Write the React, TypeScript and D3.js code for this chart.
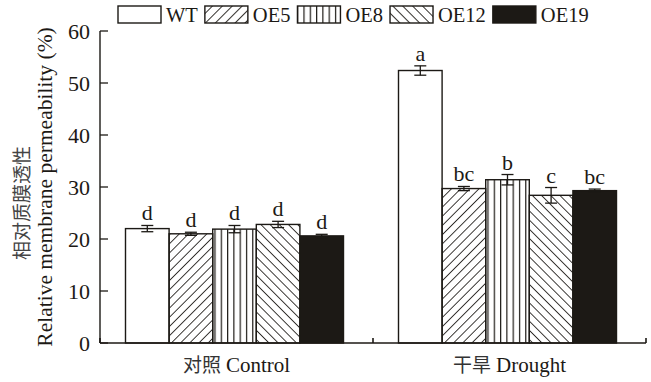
import React from "react";
import * as d3 from "d3";

// chart data
const groups = ["对照 Control", "干旱 Drought"];
const lines = ["WT", "OE5", "OE8", "OE12", "OE19"];
const controlMeans = [22.0, 21.0, 21.9, 22.8, 20.6];
const controlErr = [0.6, 0.3, 0.7, 0.6, 0.3];
const controlLetters = ["d", "d", "d", "d", "d"];
const droughtMeans = [52.4, 29.7, 31.4, 28.4, 29.3];
const droughtErr = [0.9, 0.4, 1.0, 1.5, 0.3];
const droughtLetters = ["a", "bc", "b", "c", "bc"];
const yTicks = [0, 10, 20, 30, 40, 50, 60];

const W = 651;
const H = 382;
const ink = "#1c1915";
const serif = "'Liberation Serif', 'DejaVu Serif', serif";
const cjk = "'Noto Sans CJK SC', sans-serif";

const fills: Record<string, string> = {
  WT: "#fff",
  OE5: "url(#hatch-fwd)",
  OE8: "url(#hatch-vert)",
  OE12: "url(#hatch-back)",
  OE19: ink,
};
const legendFills: Record<string, string> = {
  WT: "#fff",
  OE5: "url(#lg-fwd)",
  OE8: "url(#hatch-vert)",
  OE12: "url(#lg-back)",
  OE19: ink,
};

function textWidth(s: string, font: string) {
  const ctx = document.createElement("canvas").getContext("2d");
  if (!ctx) return s.length * 10;
  ctx.font = font;
  return ctx.measureText(s).width;
}

export default function App() {
  const y = d3.scaleLinear().domain([0, 60]).range([343, 31]);
  const x0 = d3.scaleBand().domain(groups).range([100, 646]);
  const x1 = d3.scaleBand().domain(lines).range([25.5, 243.5]);

  const series = [
    { means: controlMeans, err: controlErr, letters: controlLetters },
    { means: droughtMeans, err: droughtErr, letters: droughtLetters },
  ];

  // legend layout
  const legendFont = `20.5px 'Liberation Serif'`;
  let lx = 118;
  const legendItems = lines.map((l) => {
    const item = { l, x: lx };
    lx += 43 + 5 + textWidth(l, legendFont) + 7;
    return item;
  });

  return (
    <div style={{ position: "absolute", left: 0, top: 0 }}>
      <svg width={W} height={H} style={{ display: "block", background: "#fff" }}>
        <defs>
          <pattern id="hatch-fwd" patternUnits="userSpaceOnUse" width={6.5} height={6.5} patternTransform="rotate(45)">
            <line x1={0} y1={0} x2={0} y2={6.5} stroke={ink} strokeWidth={1.7} />
          </pattern>
          <pattern id="hatch-back" patternUnits="userSpaceOnUse" width={6.5} height={6.5} patternTransform="rotate(-45)">
            <line x1={0} y1={0} x2={0} y2={6.5} stroke={ink} strokeWidth={1.7} />
          </pattern>
          <pattern id="lg-fwd" patternUnits="userSpaceOnUse" width={7} height={7} patternTransform="rotate(45)">
            <line x1={0} y1={0} x2={0} y2={7} stroke={ink} strokeWidth={1.8} />
          </pattern>
          <pattern id="lg-back" patternUnits="userSpaceOnUse" width={7} height={7} patternTransform="rotate(-45)">
            <line x1={0} y1={0} x2={0} y2={7} stroke={ink} strokeWidth={1.8} />
          </pattern>
          <pattern id="hatch-vert" patternUnits="userSpaceOnUse" width={6.3} height={10} x={1}>
            <line x1={0.5} y1={0} x2={0.5} y2={10} stroke={ink} strokeWidth={1.4} />
          </pattern>
        </defs>

        {/* bars */}
        {groups.map((g, gi) => (
          <g key={g} transform={`translate(${x0(g)},0)`}>
            {lines.map((l, i) => {
              const v = series[gi].means[i];
              const e = series[gi].err[i];
              const bx = x1(l) as number;
              const bw = x1.bandwidth();
              const cx = bx + bw / 2;
              return (
                <g key={l}>
                  <rect x={bx} y={y(v)} width={bw} height={y(0) - y(v)} fill={fills[l]} stroke={ink} strokeWidth={1.4} />
                  <line x1={cx} x2={cx} y1={y(v - e)} y2={y(v + e)} stroke={ink} strokeWidth={1.3} />
                  <line x1={cx - 6} x2={cx + 6} y1={y(v + e)} y2={y(v + e)} stroke={ink} strokeWidth={1.3} />
                  <line x1={cx - 6} x2={cx + 6} y1={y(v - e)} y2={y(v - e)} stroke={ink} strokeWidth={1.3} />
                  <text x={cx} y={y(v + e) - 5} textAnchor="middle" fontFamily={serif} fontSize={22} fill={ink}>
                    {series[gi].letters[i]}
                  </text>
                </g>
              );
            })}
          </g>
        ))}

        {/* y axis */}
        <line x1={100} x2={100} y1={y(60)} y2={y(0)} stroke={ink} strokeWidth={1.4} />
        {yTicks.map((t) => (
          <g key={t}>
            <line x1={100} x2={108} y1={y(t)} y2={y(t)} stroke={ink} strokeWidth={1.3} />
            <text x={90} y={y(t)} dy="0.35em" textAnchor="end" fontFamily={serif} fontSize={22} fill={ink}>
              {t}
            </text>
          </g>
        ))}

        {/* x axis */}
        <line x1={100} x2={646} y1={y(0)} y2={y(0)} stroke={ink} strokeWidth={1.6} />
        {[100, x0(groups[1]) as number, 646].map((tx, i) => (
          <line key={i} x1={tx} x2={tx} y1={y(0)} y2={y(0) - 5} stroke={ink} strokeWidth={1.6} />
        ))}
        {groups.map((g) => (
          <text key={g} x={(x0(g) as number) + x0.bandwidth() / 2} y={372} textAnchor="middle" fontSize={21} fill={ink}>
            <tspan fontFamily={cjk} fontSize={19} fill="#333">{g.split(" ")[0]}</tspan>
            <tspan fontFamily={serif} dx={5}>{g.split(" ")[1]}</tspan>
          </text>
        ))}

        {/* y title */}
        <text transform="translate(29,203) rotate(-90)" textAnchor="middle" fontFamily={cjk} fontSize={19} fill="#444">
          相对质膜透性
        </text>
        <text transform="translate(52,187) rotate(-90)" textAnchor="middle" fontFamily={serif} fontSize={21.5} fill={ink}>
          Relative membrane permeability (%)
        </text>

        {/* legend */}
        {legendItems.map(({ l, x }) => (
          <g key={l}>
            <rect x={x} y={6} width={43} height={17} fill={legendFills[l]} stroke={ink} strokeWidth={1.4} />
            <text x={x + 48} y={22} fontFamily="'Liberation Serif'" fontSize={20.5} fill={ink}>
              {l}
            </text>
          </g>
        ))}
      </svg>
    </div>
  );
}
